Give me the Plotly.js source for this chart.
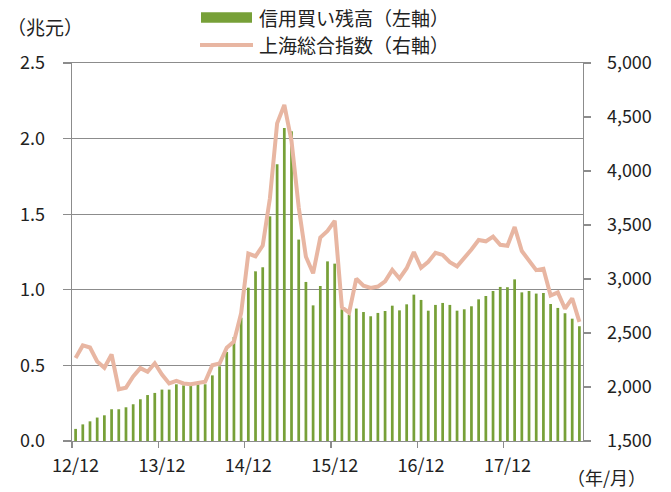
<!DOCTYPE html>
<html><head><meta charset="utf-8">
<script src="https://cdn.plot.ly/plotly-3.0.1.min.js"></script>
<style>html,body{margin:0;padding:0;background:#fff;}#chart{width:671px;height:492px;}</style>
</head><body><div id="chart"></div>
<script>
// Months: 2012/12 .. 2018/10 (71 months)
const months = [];
for (let y = 2012, m = 12; months.length < 71; ) {
  months.push(y + '/' + (m < 10 ? '0' + m : m));
  m++; if (m > 12) { m = 1; y++; }
}
// 信用買い残高（兆元）
const marginBalance = [
  0.08,
  0.11, 0.13, 0.155, 0.17, 0.21, 0.21, 0.223, 0.243, 0.276, 0.304, 0.318, 0.34,
  0.34, 0.375, 0.368, 0.384, 0.375, 0.375, 0.434, 0.494, 0.589, 0.688, 0.816, 1.014,
  1.122, 1.149, 1.486, 1.83, 2.07, 2.048, 1.332, 1.052, 0.897, 1.025, 1.188, 1.173,
  0.871, 0.836, 0.876, 0.853, 0.825, 0.847, 0.86, 0.895, 0.864, 0.904, 0.968, 0.933,
  0.862, 0.9, 0.913, 0.9, 0.862, 0.871, 0.891, 0.937, 0.959, 0.992, 1.019, 1.017,
  1.069, 0.983, 0.992, 0.975, 0.979, 0.906, 0.88, 0.845, 0.809, 0.759
];
// 上海総合指数
const shIndex = [
  2269,
  2385, 2366, 2237, 2178, 2301, 1979, 1994, 2098, 2175, 2141, 2220, 2116,
  2033, 2056, 2033, 2026, 2039, 2048, 2201, 2217, 2364, 2420, 2683, 3235,
  3210, 3310, 3748, 4441, 4612, 4277, 3664, 3206, 3053, 3383, 3445, 3539,
  2738, 2688, 3004, 2938, 2917, 2930, 2979, 3085, 3005, 3100, 3250, 3104,
  3159, 3242, 3223, 3155, 3117, 3192, 3273, 3361, 3349, 3393, 3317, 3307,
  3481, 3259, 3169, 3082, 3095, 2847, 2876, 2725, 2821, 2603
];
const seriesNames = ['信用買い残高（左軸）', '上海総合指数（右軸）'];
const tickLabels = ['12/12', '13/12', '14/12', '15/12', '16/12', '17/12'];
const tickMonths = ['2012/12', '2013/12', '2014/12', '2015/12', '2016/12', '2017/12'];

const idx = months.map((_, i) => i);
const tickVals = tickMonths.map(m => months.indexOf(m));
const boundaryVals = tickVals.map(v => v - 0.5);

const FONT = '"Noto Sans CJK JP", "Noto Sans", sans-serif';
const GRID = '#8c8c8c';
const GREEN = '#77a038';
const PINK = '#e8b6a2';

// page-pixel helpers for the hand-drawn legend (plot area: x 72..583, y 63..441)
const M = { l: 72, r: 88, t: 63, b: 51 };
const PW = 671 - M.l - M.r, PH = 492 - M.t - M.b;
const px = v => (v - M.l) / PW;
const py = v => (492 - M.b - v) / PH;

const traces = [
  { type: 'bar', x: idx, y: marginBalance, name: seriesNames[0],
    marker: { color: GREEN }, yaxis: 'y', hoverinfo: 'skip', showlegend: false },
  { type: 'scatter', mode: 'lines', x: idx, y: shIndex, name: seriesNames[1],
    line: { color: PINK, width: 4 }, yaxis: 'y2', hoverinfo: 'skip', showlegend: false }
];

const layout = {
  width: 671, height: 492,
  margin: Object.assign({ autoexpand: false }, M),
  paper_bgcolor: '#fff', plot_bgcolor: '#fff',
  font: { family: FONT, size: 18, color: '#222' },
  bargap: 0.62,
  showlegend: false,
  xaxis: {
    range: [-0.5, 70.5], tickmode: 'array', tickvals: tickVals, ticktext: tickLabels,
    ticks: '', showline: true, linecolor: GRID, linewidth: 1.3, mirror: true,
    showgrid: false, zeroline: false, ticklabelstandoff: 8,
    minor: { tickmode: 'array', tickvals: boundaryVals, ticks: 'outside', ticklen: 6,
             tickcolor: GRID, tickwidth: 1.3, showgrid: false }
  },
  yaxis: {
    range: [0, 2.5], tick0: 0, dtick: 0.5, tickformat: '.1f',
    ticks: 'outside', ticklen: 8, tickcolor: GRID, tickwidth: 1.3,
    showgrid: true, gridcolor: GRID, gridwidth: 1.3,
    showline: true, linecolor: GRID, linewidth: 1.3, zeroline: false,
    ticklabelstandoff: 14
  },
  yaxis2: {
    overlaying: 'y', side: 'right', range: [1500, 5000], tick0: 1500, dtick: 500,
    tickformat: ',', ticks: 'outside', ticklen: 7, tickcolor: GRID, tickwidth: 1.3,
    showgrid: false, showline: true, linecolor: GRID, linewidth: 1.3, zeroline: false,
    ticklabelstandoff: 12
  },
  shapes: [
    { type: 'rect', xref: 'paper', yref: 'paper', x0: px(201), x1: px(252), y0: py(22.7), y1: py(12.3),
      fillcolor: GREEN, line: { width: 0 } },
    { type: 'line', xref: 'paper', yref: 'paper', x0: px(200), x1: px(253), y0: py(45), y1: py(45),
      line: { color: PINK, width: 4 } }
  ],
  annotations: [
    { text: seriesNames[0], xref: 'paper', yref: 'paper', x: px(257), xanchor: 'left',
      y: py(17), yanchor: 'middle', showarrow: false, font: { size: 19 } },
    { text: seriesNames[1], xref: 'paper', yref: 'paper', x: px(257), xanchor: 'left',
      y: py(44), yanchor: 'middle', showarrow: false, font: { size: 19 } },
    { text: '（兆元）', xref: 'paper', yref: 'paper', x: px(5), xanchor: 'left',
      y: py(27), yanchor: 'middle', showarrow: false, font: { size: 19 } },
    { text: '（年/月）', xref: 'paper', yref: 'paper', x: px(606), xanchor: 'center',
      y: py(477), yanchor: 'middle', showarrow: false, font: { size: 18 } }
  ]
};

Plotly.newPlot('chart', traces, layout, { staticPlot: true, displayModeBar: false });
</script>
</body></html>
